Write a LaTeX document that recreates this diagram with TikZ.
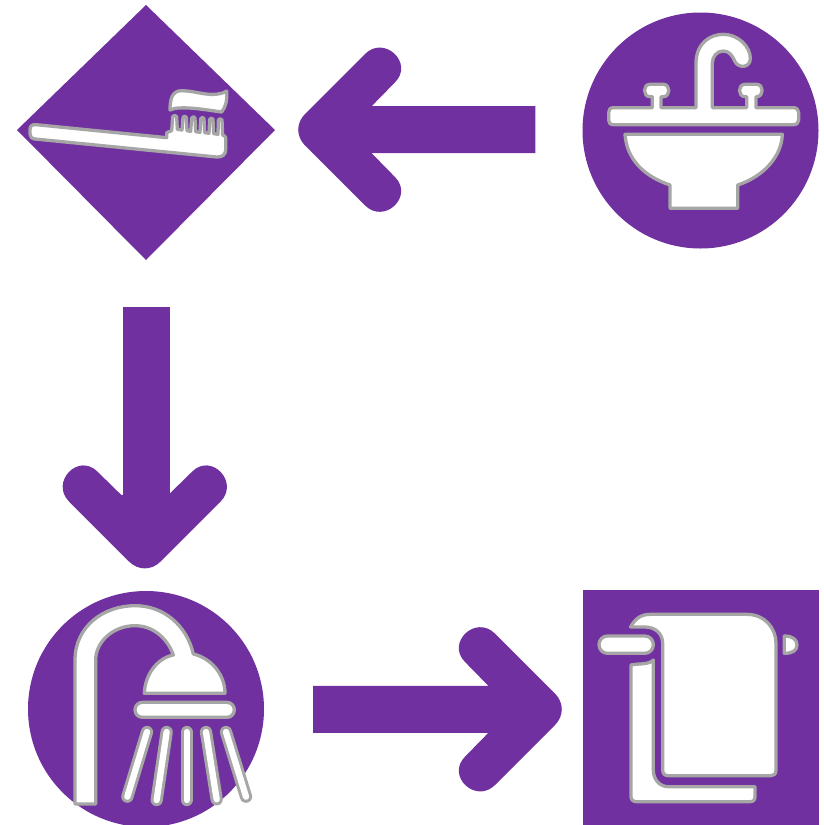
\documentclass[tikz,border=0pt]{standalone}
\definecolor{purp}{HTML}{7030A0}
\definecolor{edge}{HTML}{A6A6A6}
\tikzset{
  bg/.style={fill=purp,draw=none},
  icon/.style={fill=white,draw=edge,line width=3.3pt,line join=round},
  dropo/.style={draw=edge,line width=12.3pt,line cap=round},
  dropi/.style={draw=white,line width=6.3pt,line cap=round},
}
\newcommand{\bigarrow}[4]{% tipx, tipy, rotation, tail (zoom units)
\fill[purp,shift={(#1,#2)},rotate=#3,scale=1/3]
  (-#4,-70.5) -- (-220,-70.5) -- (-290,-142) .. controls (-348,-200) and (-258,-285) .. (-200,-227)
  -- (-20,-47) .. controls (7,-20) and (7,20) .. (-20,47) -- (-200,227)
  .. controls (-258,285) and (-348,200) .. (-290,142) -- (-220,70.5) -- (-#4,70.5) -- cycle;}
\begin{document}
\begin{tikzpicture}[x=1pt,y=-1pt]
\useasboundingbox (0,0) rectangle (823,825);
% backgrounds
\fill[bg] (146,5) -- (275,130) -- (146,260) -- (17,130) -- cycle;
\fill[bg] (700.5,130.5) circle (118);
\fill[bg] (146,709) circle (118);
\fill[bg] (583,590) rectangle (819,825);
% arrows
\bigarrow{298.3}{129.7}{180}{711}
\fill[purp] (122.8,307) rectangle (170,515);
\bigarrow{144.8}{568.3}{-90}{220}
\bigarrow{561.7}{709.3}{0}{746}
% toothbrush
\begin{scope}[scale=1/3]
\draw[icon] (108,374) -- (500,413) -- (500,398) -- (515,392) -- (518,350)
  .. controls (522,345) and (527,345) .. (530,350) -- (532,388) -- (546,390) -- (549,352)
  .. controls (552,347) and (557,347) .. (559,352) -- (561,392) -- (572,394) -- (575,354)
  .. controls (578,349) and (583,349) .. (585,354) -- (587,395) -- (600,397) -- (602,356)
  .. controls (605,351) and (610,351) .. (612,356) -- (614,398) -- (627,400) -- (629,358)
  .. controls (632,353) and (637,353) .. (639,358) -- (641,401) -- (654,403) -- (655,360)
  .. controls (658,355) and (664,355) .. (666,360) -- (668,405) .. controls (675,407) and (677,410) .. (677,415)
  -- (677,450) .. controls (677,465) and (665,472) .. (650,471) -- (105,417)
  .. controls (95,416) and (90,410) .. (90,402) -- (90,388) .. controls (90,378) and (97,373) .. (108,374) -- cycle;
\draw[icon] (510,330) .. controls (510,300) and (515,272) .. (545,272)
  .. controls (590,272) and (640,297) .. (680,273)
  .. controls (682,300) and (678,320) .. (665,336)
  .. controls (620,330) and (540,315) .. (510,330) -- cycle;
\end{scope}
% sink
\begin{scope}[shift={(570,0)},scale=1/3]
\draw[icon] (130,323) -- (247,323) -- (247,290) -- (240,290)
  .. controls (218,290) and (218,253) .. (240,253) -- (280,253)
  .. controls (302,253) and (302,290) .. (280,290) -- (273,290) -- (273,323) -- (378,323) -- (378,190)
  .. controls (378,130) and (420,103) .. (460,103)
  .. controls (505,103) and (541,140) .. (541,175)
  .. controls (541,205) and (505,205) .. (495,185)
  .. controls (488,168) and (478,153) .. (460,153)
  .. controls (440,153) and (427,170) .. (427,190) -- (427,323) -- (530,323) -- (530,290) -- (525,290)
  .. controls (503,290) and (503,253) .. (525,253) -- (560,253)
  .. controls (582,253) and (582,290) .. (560,290) -- (558,290) -- (558,323) -- (670,323)
  .. controls (681,323) and (686,330) .. (686,338) -- (686,360)
  .. controls (686,368) and (681,374) .. (670,374) -- (130,374)
  .. controls (120,374) and (116,368) .. (116,360) -- (116,338)
  .. controls (116,330) and (120,323) .. (130,323) -- cycle;
\draw[icon] (165,403) -- (637,403) .. controls (635,470) and (580,530) .. (503,555)
  -- (503,625) -- (300,625) -- (300,555) .. controls (225,530) and (170,480) .. (165,403) -- cycle;
\end{scope}
% shower
\begin{scope}[shift={(15,580)},scale=1/3]
\draw[icon] (180,672) -- (180,240) .. controls (180,140) and (265,77) .. (360,77)
  .. controls (445,77) and (515,135) .. (535,222)
  .. controls (590,235) and (630,285) .. (630,340) -- (388,340)
  .. controls (390,285) and (425,235) .. (475,225)
  .. controls (455,170) and (410,137) .. (360,137)
  .. controls (295,137) and (242,185) .. (242,240) -- (242,672) -- cycle;
\draw[icon,rounded corners=7.4pt] (360,367) rectangle (658,412);
\foreach \xa/\ya/\xb/\yb in {396/456/337/650,455/456/425/660,515/456/515/660,573/456/605/658,633/456/693/650}{
  \draw[dropo] (\xa,\ya) -- (\xb,\yb);
  \draw[dropi] (\xa,\ya) -- (\xb,\yb);
}
\end{scope}
% towel
\begin{scope}[shift={(575,580)},scale=1/3]
\draw[icon] (167,141) .. controls (180,115) and (200,103) .. (225,103) -- (515,103)
  .. controls (570,103) and (603,145) .. (603,190) -- (603,570)
  .. controls (603,582) and (597,587) .. (588,587) -- (280,587)
  .. controls (270,587) and (263,582) .. (263,570) -- (263,190)
  .. controls (263,160) and (240,141) .. (210,141) -- cycle;
\draw[icon,rounded corners=8.5pt] (72,168) rectangle (235,220);
\draw[icon] (628,168) .. controls (655,168) and (666,180) .. (666,195)
  .. controls (666,210) and (655,220) .. (628,220) -- cycle;
\draw[icon] (168,255) .. controls (190,250) and (220,255) .. (235,240) -- (235,570)
  .. controls (235,600) and (255,620) .. (280,620) -- (540,620) -- (540,650)
  .. controls (540,660) and (535,665) .. (525,665) -- (185,665)
  .. controls (175,665) and (168,660) .. (168,650) -- cycle;
\end{scope}
\end{tikzpicture}
\end{document}
